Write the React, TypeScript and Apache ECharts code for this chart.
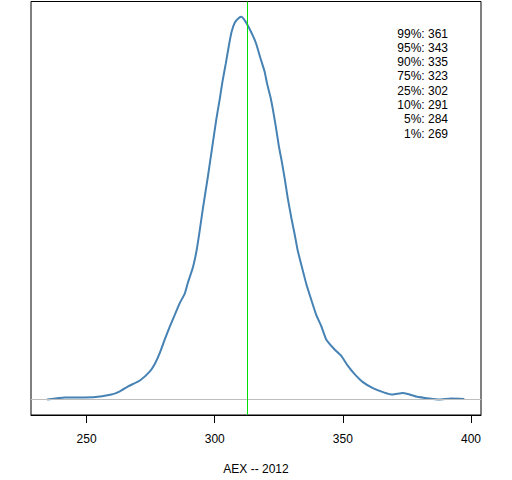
import React, { useEffect, useRef } from "react";
import * as echarts from "echarts";

// Kernel density estimate of AEX closing values, 2012 (density in arbitrary units)
const xValues = [
  234.6, 241.5, 252.6, 259.7, 263.0, 266.2, 270.8, 274.7, 276.6, 278.6,
  280.5, 282.5, 284.4, 286.3, 288.3, 289.6, 291.5, 292.9, 294.1, 295.4,
  297.4, 298.9, 300.6, 301.9, 303.0, 304.3, 305.4, 306.5, 307.8, 309.5,
  310.4, 311.7, 313.0, 314.9, 316.2, 317.9, 319.5, 320.4, 321.7, 322.7,
  323.8, 325.0, 326.2, 327.3, 328.5, 329.9, 331.2, 332.4, 334.2, 335.7,
  337.7, 339.6, 341.6, 343.5, 346.7, 349.4, 351.9, 354.5, 357.8, 361.7,
  366.2, 369.4, 373.3, 375.3, 378.6, 383.7, 387.6, 392.2, 397.4,
];
const density = [
  0.2, 2.2, 2.5, 5.2, 8.5, 13.5, 19.5, 28.8, 36.2, 47.8,
  61.2, 74.5, 86.2, 97.8, 107.8, 119.5, 134.5, 151.2, 171.2, 194.5,
  227.8, 254.5, 284.5, 304.5, 322.8, 341.2, 357.8, 372.8, 382.8, 387.8,
  388.8, 385.2, 379.5, 369.5, 361.2, 346.2, 332.8, 321.2, 307.8, 294.5,
  277.8, 257.8, 241.2, 224.5, 204.5, 184.5, 167.8, 151.2, 132.8, 117.8,
  101.2, 86.2, 74.5, 61.2, 51.2, 44.5, 34.5, 26.2, 17.8, 11.8,
  7.2, 5.2, 6.8, 5.8, 3.2, 1.2, 0.2, 1.2, 0.8,
];
const medianValue = 312.6;
const tickValues = [250, 300, 350, 400];
const xMin = 228.3;
const xMax = 403.9;
const quantileNames = ["99%", "95%", "90%", "75%", "25%", "10%", "5%", "1%"];
const quantileValues = [361, 343, 335, 323, 302, 291, 284, 269];
const axisTitle = "AEX -- 2012";

const FONT = '"Liberation Sans", Arial, sans-serif';

export default function App() {
  const ref = useRef<HTMLDivElement>(null);
  useEffect(() => {
    if (!ref.current) return;
    const chart = echarts.init(ref.current, null, { renderer: "svg" });
    const peak = Math.max(...density);
    const lineData = xValues.map((x, i) => [x, density[i]]);
    chart.setOption({
      animation: false,
      grid: {
        left: 31,
        right: 31,
        top: 1.5,
        bottom: 60,
        show: true,
        borderColor: "#000",
        borderWidth: 1,
        backgroundColor: "transparent",
      },
      xAxis: {
        type: "value",
        min: xMin,
        max: xMax,
        axisLine: { show: true, onZero: false, lineStyle: { color: "#000", width: 1 } },
        splitLine: { show: false },
        axisTick: {
          show: true,
          length: 8,
          customValues: tickValues,
          lineStyle: { color: "#000", width: 1 },
        },
        axisLabel: {
          customValues: tickValues,
          margin: 18,
          color: "#000",
          fontSize: 12,
          fontFamily: FONT,
        },
        name: axisTitle,
        nameLocation: "middle",
        nameGap: 48,
        nameTextStyle: { color: "#000", fontSize: 12, fontFamily: FONT },
      },
      yAxis: {
        type: "value",
        min: -0.04 * peak,
        max: 1.04 * peak,
        show: false,
        splitLine: { show: false },
      },
      series: [
        {
          type: "line",
          data: [],
          z: 1,
          silent: true,
          markLine: {
            silent: true,
            symbol: "none",
            label: { show: false },
            lineStyle: { color: "#bebebe", width: 1, type: "solid" },
            data: [{ yAxis: 0 }],
          },
        },
        {
          type: "line",
          data: lineData,
          z: 2,
          showSymbol: false,
          symbol: "none",
          smooth: 0.15,
          lineStyle: { color: "#4682b4", width: 2 },
        },
        {
          type: "line",
          data: [],
          z: 3,
          silent: true,
          markLine: {
            silent: true,
            symbol: "none",
            label: { show: false },
            lineStyle: { color: "#00dd00", width: 1, type: "solid" },
            data: [{ xAxis: medianValue }],
          },
        },
      ],
      graphic: quantileNames.map((q, i) => ({
        type: "text",
        x: 448,
        y: 33.5 + i * 14.3,
        silent: true,
        style: {
          text: `${q}: ${quantileValues[i]}`,
          align: "right",
          verticalAlign: "middle",
          fill: "#000",
          fontSize: 12,
          fontFamily: FONT,
        },
      })),
    });
    return () => chart.dispose();
  }, []);
  return (
    <div
      ref={ref}
      style={{ position: "absolute", left: 0, top: 0, width: 512, height: 480 }}
    />
  );
}
